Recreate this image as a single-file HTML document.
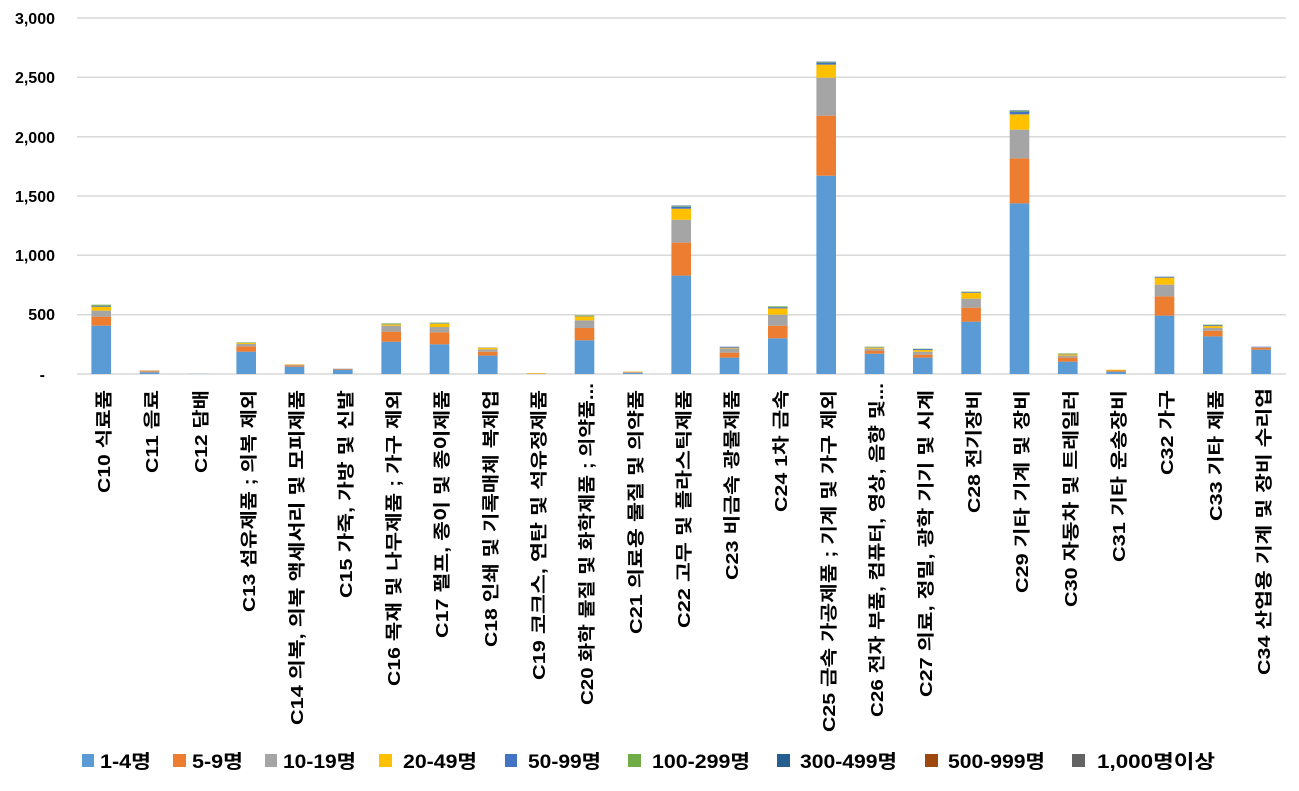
<!DOCTYPE html>
<html><head><meta charset="utf-8"><style>
html,body{margin:0;padding:0;background:#fff;}
svg text{font-family:"Liberation Sans","Noto Sans CJK KR",sans-serif;font-weight:bold;fill:#000;}
</style></head><body>
<svg id="c" width="1299" height="786" xmlns="http://www.w3.org/2000/svg">
<g stroke="#d9d9d9" stroke-width="1.5">
<line x1="77" x2="1286" y1="18" y2="18"/><line x1="77" x2="1286" y1="77.3" y2="77.3"/>
<line x1="77" x2="1286" y1="136.7" y2="136.7"/><line x1="77" x2="1286" y1="196" y2="196"/>
<line x1="77" x2="1286" y1="255.3" y2="255.3"/><line x1="77" x2="1286" y1="314.7" y2="314.7"/>
<line x1="77" x2="1286" y1="374" y2="374"/>
</g>
<g font-size="16" text-anchor="end">
<text x="55" y="24">3,000</text><text x="55" y="83">2,500</text><text x="55" y="143">2,000</text>
<text x="55" y="202">1,500</text><text x="55" y="261">1,000</text><text x="55" y="320">500</text><text x="45" y="380">-</text>
</g>
<g id="bars"></g>
<g id="labels" font-size="17.5" text-anchor="end">
<text transform="translate(110,390) rotate(-90)" textLength="103" lengthAdjust="spacingAndGlyphs">C10 식료품</text>
<text transform="translate(158,390) rotate(-90)" textLength="83" lengthAdjust="spacingAndGlyphs">C11 음료</text>
<text transform="translate(207,390) rotate(-90)" textLength="83" lengthAdjust="spacingAndGlyphs">C12 담배</text>
<text transform="translate(255,390) rotate(-90)" textLength="222" lengthAdjust="spacingAndGlyphs">C13 섬유제품 ; 의복 제외</text>
<text transform="translate(303,390) rotate(-90)" textLength="335" lengthAdjust="spacingAndGlyphs">C14 의복, 의복 액세서리 및 모피제품</text>
<text transform="translate(352,390) rotate(-90)" textLength="208" lengthAdjust="spacingAndGlyphs">C15 가죽, 가방 및 신발</text>
<text transform="translate(400,390) rotate(-90)" textLength="296" lengthAdjust="spacingAndGlyphs">C16 목재 및 나무제품 ; 가구 제외</text>
<text transform="translate(448,390) rotate(-90)" textLength="248" lengthAdjust="spacingAndGlyphs">C17 펄프, 종이 및 종이제품</text>
<text transform="translate(497,390) rotate(-90)" textLength="257" lengthAdjust="spacingAndGlyphs">C18 인쇄 및 기록매체 복제업</text>
<text transform="translate(545,390) rotate(-90)" textLength="290" lengthAdjust="spacingAndGlyphs">C19 코크스, 연탄 및 석유정제품</text>
<text transform="translate(593,383) rotate(-90)" textLength="322" lengthAdjust="spacingAndGlyphs">C20 화학 물질 및 화학제품 ; 의약품...</text>
<text transform="translate(642,390) rotate(-90)" textLength="244" lengthAdjust="spacingAndGlyphs">C21 의료용 물질 및 의약품</text>
<text transform="translate(690,390) rotate(-90)" textLength="238" lengthAdjust="spacingAndGlyphs">C22 고무 및 플라스틱제품</text>
<text transform="translate(738,390) rotate(-90)" textLength="190" lengthAdjust="spacingAndGlyphs">C23 비금속 광물제품</text>
<text transform="translate(787,390) rotate(-90)" textLength="122" lengthAdjust="spacingAndGlyphs">C24 1차 금속</text>
<text transform="translate(835,390) rotate(-90)" textLength="342" lengthAdjust="spacingAndGlyphs">C25 금속 가공제품 ; 기계 및 가구 제외</text>
<text transform="translate(883,383) rotate(-90)" textLength="334" lengthAdjust="spacingAndGlyphs">C26 전자 부품, 컴퓨터, 영상, 음향 및...</text>
<text transform="translate(932,390) rotate(-90)" textLength="307" lengthAdjust="spacingAndGlyphs">C27 의료, 정밀, 광학 기기 및 시계</text>
<text transform="translate(980,390) rotate(-90)" textLength="123" lengthAdjust="spacingAndGlyphs">C28 전기장비</text>
<text transform="translate(1028,390) rotate(-90)" textLength="203" lengthAdjust="spacingAndGlyphs">C29 기타 기계 및 장비</text>
<text transform="translate(1077,390) rotate(-90)" textLength="217" lengthAdjust="spacingAndGlyphs">C30 자동차 및 트레일러</text>
<text transform="translate(1125,390) rotate(-90)" textLength="172" lengthAdjust="spacingAndGlyphs">C31 기타 운송장비</text>
<text transform="translate(1173,390) rotate(-90)" textLength="85" lengthAdjust="spacingAndGlyphs">C32 가구</text>
<text transform="translate(1222,390) rotate(-90)" textLength="131" lengthAdjust="spacingAndGlyphs">C33 기타 제품</text>
<text transform="translate(1270,388) rotate(-90)" textLength="287" lengthAdjust="spacingAndGlyphs">C34 산업용 기계 및 장비 수리업</text>
</g>
<g font-size="19">
<rect x="82" y="754" width="12" height="13" fill="#5B9BD5"/><text x="100" y="768" textLength="51" lengthAdjust="spacingAndGlyphs">1-4명</text>
<rect x="173" y="754" width="13" height="13" fill="#ED7D31"/><text x="192" y="768" textLength="51" lengthAdjust="spacingAndGlyphs">5-9명</text>
<rect x="265" y="754" width="12" height="13" fill="#A5A5A5"/><text x="283" y="768" textLength="73" lengthAdjust="spacingAndGlyphs">10-19명</text>
<rect x="379" y="754" width="13" height="13" fill="#FFC000"/><text x="403" y="768" textLength="74" lengthAdjust="spacingAndGlyphs">20-49명</text>
<rect x="505" y="754" width="12" height="13" fill="#4472C4"/><text x="528" y="768" textLength="73" lengthAdjust="spacingAndGlyphs">50-99명</text>
<rect x="628" y="754" width="13" height="13" fill="#70AD47"/><text x="652" y="768" textLength="98" lengthAdjust="spacingAndGlyphs">100-299명</text>
<rect x="777" y="754" width="13" height="13" fill="#255E91"/><text x="800" y="768" textLength="97" lengthAdjust="spacingAndGlyphs">300-499명</text>
<rect x="925" y="754" width="13" height="13" fill="#9E480E"/><text x="948" y="768" textLength="97" lengthAdjust="spacingAndGlyphs">500-999명</text>
<rect x="1072" y="754" width="13" height="13" fill="#636363"/><text x="1097" y="768" textLength="118" lengthAdjust="spacingAndGlyphs">1,000명이상</text>
</g>
</svg>
<script>
var cols=["#5B9BD5","#ED7D31","#A5A5A5","#FFC000","#4472C4","#70AD47","#255E91"];
var d=[[407,76,51,33,8,9],[15,8,6,2],[1],[188,45,20,8,2,4],[62,11,6,3],[37,5,3],[272,85,50,12,3,5],[250,101,45,28,4,5],[155,33,20,14,2],[2,0,0,6],[284,104,64,34,3,5],[10,5,4,3],[829,278,193,93,17,5,4],[138,42,36,6,8],[301,106,93,53,10,7],[1671,506,320,110,17,5,3],[171,26,16,9,4,4],[138,25,25,14,8,3],[441,118,76,50,6,3],[1438,379,242,129,23,7,4],[104,34,17,11,4,4],[20,10,0,6],[492,162,99,59,8],[317,48,23,16,7,5],[205,17,3,0,5]];
var g=document.getElementById("bars"),s=356/3000,h="";
d.forEach(function(v,i){var cx=101.2+i*48.33,y=374;v.forEach(function(val,k){if(!val)return;var hh=val*s;y-=hh;h+='<rect x="'+(cx-9.8).toFixed(1)+'" y="'+y.toFixed(2)+'" width="19.6" height="'+hh.toFixed(2)+'" fill="'+cols[k]+'"/>';});});
g.innerHTML=h;
</script>
</body></html>
